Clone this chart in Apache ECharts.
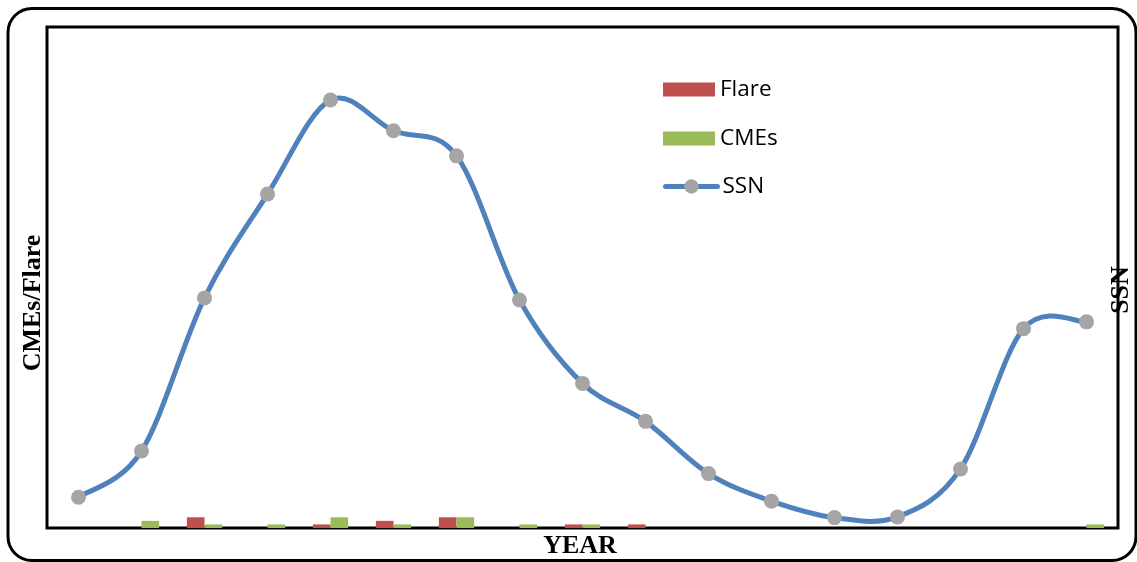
<!DOCTYPE html>
<html>
<head>
<meta charset="utf-8">
<title>CMEs, Flares and SSN</title>
<script src="https://cdn.jsdelivr.net/npm/echarts@6/dist/echarts.min.js"></script>
<style>
  html, body { margin: 0; padding: 0; background: #ffffff; }
  #chart { width: 1137px; height: 562px; }
</style>
</head>
<body>
<div id="chart"></div>
<script>
// Yearly categories (axis labels are not shown)
const years = ['1996','1997','1998','1999','2000','2001','2002','2003','2004',
               '2005','2006','2007','2008','2009','2010','2011','2012'];
// Counts on the left axis
const flare = [0, 0, 3, 0, 1, 2, 3, 0, 1, 1, 0, 0, 0, 0, 0, 0, 0];
const cmes  = [0, 2, 1, 1, 3, 1, 3, 1, 1, 0, 0, 0, 0, 0, 0, 0, 1];
// Sunspot number on the right axis
const ssn = [8.6, 21.5, 64.3, 93.3, 119.6, 111.0, 104.0, 63.7, 40.4,
             29.8, 15.2, 7.5, 2.9, 3.1, 16.5, 55.7, 57.6];

const SSN_BLUE = '#4F81BD';

const chart = echarts.init(document.getElementById('chart'), null, { renderer: 'canvas' });

const serifBold = { fontFamily: '"Liberation Serif", "DejaVu Serif", serif', fontWeight: 'bold', fontSize: 26, fill: '#000' };
const legendText = { fontFamily: '"Open Sans", sans-serif', fontSize: 22.5, color: '#000' };

// Smooth SSN curve: Catmull-Rom spline through the projected data points,
// written as cubic Bezier segments (tangent = (next - prev) / 6).
function renderSsnCurve(params, api) {
  if (params.dataIndex !== 0) return null;
  const pts = ssn.map((v, i) => api.coord([i, v]));
  const n = pts.length;
  let d = 'M' + pts[0][0] + ' ' + pts[0][1];
  for (let i = 0; i < n - 1; i++) {
    const p0 = pts[Math.max(i - 1, 0)];
    const p1 = pts[i];
    const p2 = pts[i + 1];
    const p3 = pts[Math.min(i + 2, n - 1)];
    const c1x = p1[0] + (p2[0] - p0[0]) / 6;
    const c1y = p1[1] + (p2[1] - p0[1]) / 6;
    const c2x = p2[0] - (p3[0] - p1[0]) / 6;
    const c2y = p2[1] - (p3[1] - p1[1]) / 6;
    d += ' C' + c1x + ' ' + c1y + ' ' + c2x + ' ' + c2y + ' ' + p2[0] + ' ' + p2[1];
  }
  return {
    type: 'path',
    shape: { pathData: d },
    style: { fill: 'none', stroke: SSN_BLUE, lineWidth: 5, lineCap: 'round', lineJoin: 'round' }
  };
}

chart.setOption({
  backgroundColor: '#ffffff',
  animation: false,
  grid: {
    left: 47, right: 19, top: 27, bottom: 34,
    show: true, borderColor: '#000', borderWidth: 3, backgroundColor: 'transparent'
  },
  legend: [
    {
      orient: 'vertical',
      left: 658, top: 73,
      itemWidth: 52, itemHeight: 14, itemGap: 26,
      textStyle: legendText,
      data: [{ name: 'Flare', icon: 'rect' }, { name: 'CMEs', icon: 'rect' }]
    },
    {
      orient: 'vertical',
      left: 658, top: 170,
      itemWidth: 52, itemHeight: 18,
      textStyle: legendText,
      data: [{ name: 'SSN', lineStyle: { width: 5, cap: 'round', color: SSN_BLUE, opacity: 1 } }]
    }
  ],
  xAxis: {
    type: 'category',
    data: years,
    boundaryGap: true,
    axisLine: { show: false },
    axisTick: { show: false },
    axisLabel: { show: false }
  },
  yAxis: [
    {
      type: 'value', min: 0, max: 140,
      axisLine: { show: false }, axisTick: { show: false },
      axisLabel: { show: false }, splitLine: { show: false }
    },
    {
      type: 'value', min: 0, max: 140, position: 'right',
      axisLine: { show: false }, axisTick: { show: false },
      axisLabel: { show: false }, splitLine: { show: false }
    }
  ],
  series: [
    {
      name: 'Flare', type: 'bar', yAxisIndex: 0, data: flare,
      barGap: '0%', barCategoryGap: '44%',
      itemStyle: { color: '#C0504D' }, z: 2
    },
    {
      name: 'CMEs', type: 'bar', yAxisIndex: 0, data: cmes,
      barGap: '0%', barCategoryGap: '44%',
      itemStyle: { color: '#9BBB59' }, z: 2
    },
    {
      type: 'custom', yAxisIndex: 1, silent: true, z: 3,
      data: ssn.map((v, i) => [i, v]),
      encode: { x: 0, y: 1 },
      renderItem: renderSsnCurve
    },
    {
      name: 'SSN', type: 'line', yAxisIndex: 1, data: ssn,
      symbol: 'circle', symbolSize: 15,
      lineStyle: { color: SSN_BLUE, width: 5, opacity: 0 },
      itemStyle: { color: '#A5A5A5', borderWidth: 0 },
      z: 4
    }
  ],
  graphic: [
    {
      type: 'rect', silent: true, z: 100,
      shape: { x: 8, y: 8.5, width: 1128, height: 552, r: 24 },
      style: { fill: 'none', stroke: '#000', lineWidth: 3 }
    },
    {
      type: 'text', silent: true, z: 100,
      x: 33, y: 303, rotation: Math.PI / 2,
      style: Object.assign({ text: 'CMEs/Flare', align: 'center', verticalAlign: 'middle' }, serifBold)
    },
    {
      type: 'text', silent: true, z: 100,
      x: 1121, y: 290, rotation: Math.PI / 2,
      style: Object.assign({ text: 'SSN', align: 'center', verticalAlign: 'middle' }, serifBold)
    },
    {
      type: 'text', silent: true, z: 100,
      x: 580, y: 546,
      style: Object.assign({ text: 'YEAR', align: 'center', verticalAlign: 'middle' }, serifBold)
    }
  ]
});
</script>
</body>
</html>
